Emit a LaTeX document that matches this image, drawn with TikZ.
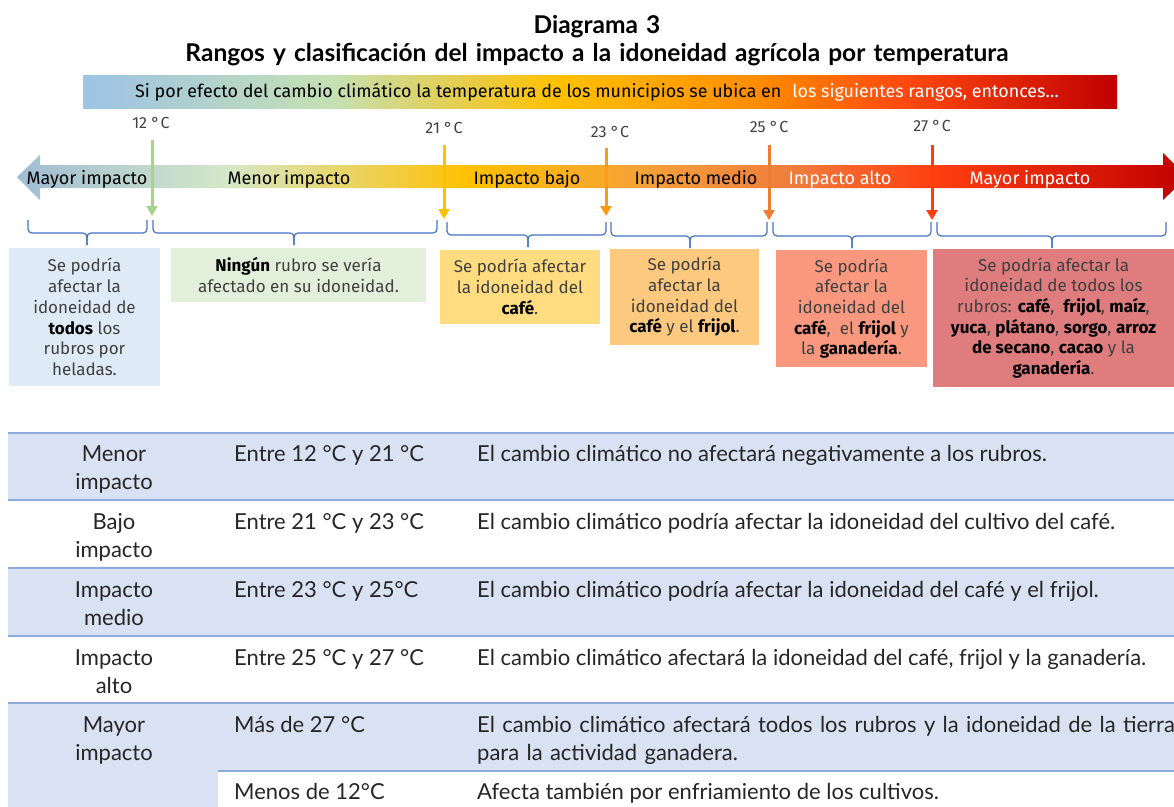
\documentclass[tikz,border=0pt]{standalone}
\usepackage{fontspec}
\setmainfont{Fira Sans}
\newfontfamily\tabfont{Lato}
\usetikzlibrary{arrows.meta}
\definecolor{txtgray}{HTML}{404040}
\definecolor{tabtxt}{HTML}{262626}
\definecolor{boxBlue}{HTML}{DEEBF7}
\definecolor{boxGreen}{HTML}{E2EFDA}
\definecolor{boxYellow}{HTML}{FFDC7F}
\definecolor{boxPeach}{HTML}{FDC97E}
\definecolor{boxSalmon}{HTML}{F9987E}
\definecolor{boxRose}{HTML}{DE7C7E}
\definecolor{braceBlue}{HTML}{4472C4}
\definecolor{rowBlue}{HTML}{D9E2F3}
\definecolor{rowLine}{HTML}{8EAADB}
\definecolor{aGreen}{HTML}{A9D18E}
\definecolor{aAmber}{HTML}{FFC000}
\definecolor{aOrange}{HTML}{FF9A14}
\definecolor{aDarkOr}{HTML}{ED7D31}
\definecolor{aRed}{HTML}{FF3D0D}
\definecolor{gBlue}{HTML}{9DC3E6}
\definecolor{gGreen}{HTML}{C5E0B4}
\definecolor{gAmber}{HTML}{FFC000}
\definecolor{gOrange}{HTML}{FF8C00}
\definecolor{gRed}{HTML}{FF4A10}
\definecolor{gDark}{HTML}{C00000}
\definecolor{hBlue}{HTML}{9FBCD3}
\definecolor{hGreen}{HTML}{D5E8C8}
\definecolor{hAmber}{HTML}{FFC000}
\definecolor{hOrange}{HTML}{F4A03A}
\definecolor{hCoral}{HTML}{F07A3C}
\definecolor{hRed}{HTML}{FF400F}
\definecolor{hDark}{HTML}{C00000}
\pgfdeclarehorizontalshading{topbarshade}{100bp}{color(0bp)=(gBlue); color(25bp)=(gBlue); color(37bp)=(gGreen); color(48bp)=(gAmber); color(57.7bp)=(gOrange); color(64.5bp)=(gRed); color(75bp)=(gDark); color(100bp)=(gDark)}
\pgfdeclarehorizontalshading{arrowshade}{100bp}{color(0bp)=(hBlue); color(25bp)=(hBlue); color(34bp)=(hGreen); color(44.4bp)=(hAmber); color(52bp)=(hOrange); color(58.5bp)=(hCoral); color(64bp)=(hRed); color(75bp)=(hDark); color(100bp)=(hDark)}
\newcommand{\bw}[1]{\textbf{\color{black}#1}}
\newcommand{\drawbrace}[5]{%
  \draw[bracepath] (#1,#4) -- (#1,#5) -- (#3,#5) -- (#3,#5+12);
  \draw[bracepath] (#2,#4) -- (#2,#5) -- (#3,#5) -- (#3,#5+12);}
\tikzset{
  boxtext/.style={font=\fontsize{17}{20.7}\selectfont, text=txtgray, align=center, inner sep=0pt},
  templabel/.style={font=\fontsize{16}{18}\selectfont, text=txtgray, inner sep=0pt, anchor=base},
  arrowlabel/.style={font=\fontsize{18}{20}\selectfont, inner sep=0pt, anchor=base},
  tempdrop/.style={line width=3pt, -{Triangle[width=11pt,length=10pt]}},
  bracepath/.style={draw=braceBlue, line width=1.2pt, rounded corners=4pt},
  tabtext/.style={font=\tabfont\fontsize{22}{28.3}\selectfont, text=tabtxt, inner sep=0pt},
  rowline/.style={draw=rowLine, line width=2pt},
}
\begin{document}
\begin{tikzpicture}[x=1pt,y=-1pt]
\clip (0,0) rectangle (1174,806);
\fill[white] (0,0) rectangle (1174,806);
% title
\node[font=\tabfont\bfseries\fontsize{24.5}{28}\selectfont, text width=1100, align=center, inner sep=0pt, anchor=base] (title) at (597,33)
  {Diagrama 3\\Rangos y clasificación del impacto a la idoneidad agrícola por temperatura};
% top bar
\shade[shading=topbarshade] (83,75) rectangle (1117,108);
\node[font=\fontsize{17.9}{20}\selectfont, inner sep=0pt, anchor=base west] (bartext) at (135,97)
  {Si por efecto del cambio climático la temperatura de los municipios se ubica en\hspace{11pt}\textcolor{white}{los siguientes rangos, entonces…}};
% big double arrow
\shade[shading=arrowshade] (17,177) -- (40,155) -- (40,165) -- (1163,165) -- (1163,153) -- (1187,177)
  -- (1163,200) -- (1163,188) -- (40,188) -- (40,200) -- cycle;
\node[arrowlabel] (lmayor) at (87,184) {Mayor impacto};
\node[arrowlabel] (menor) at (289,184) {Menor impacto};
\node[arrowlabel] (bajo) at (527,184) {Impacto bajo};
\node[arrowlabel] (medio) at (696,184) {Impacto medio};
\node[arrowlabel, text=white] (alto) at (840,184) {Impacto alto};
\node[arrowlabel, text=white] (rmayor) at (1030,184) {Mayor impacto};
% temperature labels and drops
\node[templabel] (t12) at (151,128.5) {12 °\kern1pt C};
\node[templabel] (t21) at (444,133.5) {21 °\kern1pt C};
\node[templabel] (t23) at (610,137.5) {23 °\kern1pt C};
\node[templabel] (t25) at (769,132.5) {25 °\kern1pt C};
\node[templabel] (t27) at (932,131.5) {27 °\kern1pt C};
\coordinate (s12) at (152,140); \coordinate (e12) at (152,216);
\coordinate (s21) at (444,145); \coordinate (e21) at (444,219);
\coordinate (s23) at (606,148); \coordinate (e23) at (606,216);
\coordinate (s25) at (769,145); \coordinate (e25) at (769,220);
\coordinate (s27) at (932,145); \coordinate (e27) at (932,220);
\draw[tempdrop, aGreen] (s12) -- (e12);
\draw[tempdrop, aAmber] (s21) -- (e21);
\draw[tempdrop, aOrange] (s23) -- (e23);
\draw[tempdrop, aDarkOr] (s25) -- (e25);
\draw[tempdrop, aRed] (s27) -- (e27);
% braces
\drawbrace{28}{147}{87}{220}{233}
\drawbrace{153}{437}{294}{220}{233}
\drawbrace{447}{606}{528}{222}{235}
\drawbrace{611}{767}{690}{222}{236}
\drawbrace{773}{931}{852}{222}{236}
\drawbrace{937}{1166}{1052}{222}{236}
% boxes
\node[boxtext, fill=boxBlue, minimum width=151, minimum height=138] (b1) at (84.5,317)
  {Se podría\\afectar la\\idoneidad de\\\bw{todos} los\\rubros por\\heladas.};
\node[boxtext, fill=boxGreen, minimum width=255, minimum height=54] (b2) at (298.5,275)
  {\bw{Ningún} rubro se vería\\afectado en su idoneidad.};
\node[boxtext, fill=boxYellow, minimum width=160, minimum height=74] (b3) at (520,287)
  {Se podría afectar\\la idoneidad del\\\bw{café}.};
\node[boxtext, fill=boxPeach, minimum width=149, minimum height=96] (b4) at (684.5,297)
  {Se podría\\afectar la\\idoneidad del\\\bw{café} y el \bw{frijol}.};
\node[boxtext, fill=boxSalmon, minimum width=151, minimum height=117] (b5) at (851.5,308.5)
  {Se podría\\afectar la\\idoneidad del\\\bw{café},\ \ el \bw{frijol} y\\la \bw{ganadería}.};
\node[boxtext, fill=boxRose, minimum width=241, minimum height=138] (b6) at (1053.5,318)
  {Se podría afectar la\\idoneidad de todos los\\rubros: \bw{café},\ \ \bw{frijol}, \bw{maíz},\\\bw{yuca}, \bw{plátano}, \bw{sorgo}, \bw{arroz}\\\bw{de secano}, \bw{cacao} y la\\\bw{ganadería}.};
% table
\fill[rowBlue] (8,433) rectangle (1180,500);
\fill[rowBlue] (8,568) rectangle (1180,636);
\fill[rowBlue] (8,703) rectangle (1180,771);
\fill[rowBlue] (8,771) rectangle (218,810);
\draw[rowline] (8,433) -- (1180,433);
\draw[rowline] (8,500) -- (1180,500);
\draw[rowline] (8,568) -- (1180,568);
\draw[rowline] (8,636) -- (1180,636);
\draw[rowline] (8,703) -- (1180,703);
\draw[rowline] (218,771) -- (1180,771);
\node[tabtext, text width=160, align=center, anchor=base] (c1r1) at (114,461) {Menor\\impacto};
\node[tabtext, text width=160, align=center, anchor=base] (c1r2) at (114,529) {Bajo\\impacto};
\node[tabtext, text width=160, align=center, anchor=base] (c1r3) at (114,597) {Impacto\\medio};
\node[tabtext, text width=160, align=center, anchor=base] (c1r4) at (114,665) {Impacto\\alto};
\node[tabtext, text width=160, align=center, anchor=base] (c1r5) at (114,732) {Mayor\\impacto};
\node[tabtext, anchor=base west] (c2r1) at (234,461) {Entre 12 °C y 21 °C};
\node[tabtext, anchor=base west] (c2r2) at (234,529) {Entre 21 °C y 23 °C};
\node[tabtext, anchor=base west] (c2r3) at (234,597) {Entre 23 °C y 25°C};
\node[tabtext, anchor=base west] (c2r4) at (234,665) {Entre 25 °C y 27 °C};
\node[tabtext, anchor=base west] (c2r5) at (234,732) {Más de 27 °C};
\node[tabtext, anchor=base west] (c2r6) at (234,799) {Menos de 12°C};
\node[tabtext, anchor=base west] (c3r1) at (477,461) {El cambio climático no afectará negativamente a los rubros.};
\node[tabtext, anchor=base west] (c3r2) at (477,529) {El cambio climático podría afectar la idoneidad del cultivo del café.};
\node[tabtext, anchor=base west] (c3r3) at (477,597) {El cambio climático podría afectar la idoneidad del café y el frijol.};
\node[tabtext, anchor=base west] (c3r4) at (477,665) {El cambio climático afectará la idoneidad del café, frijol y la ganadería.};
\node[tabtext, text width=720, align=left, anchor=base west] (c3r5) at (477,732) {El cambio climático afectará todos los rubros y la idoneidad de la tierra\\para la actividad ganadera.};
\node[tabtext, anchor=base west] (c3r6) at (477,799) {Afecta también por enfriamiento de los cultivos.};
\end{tikzpicture}
\end{document}
